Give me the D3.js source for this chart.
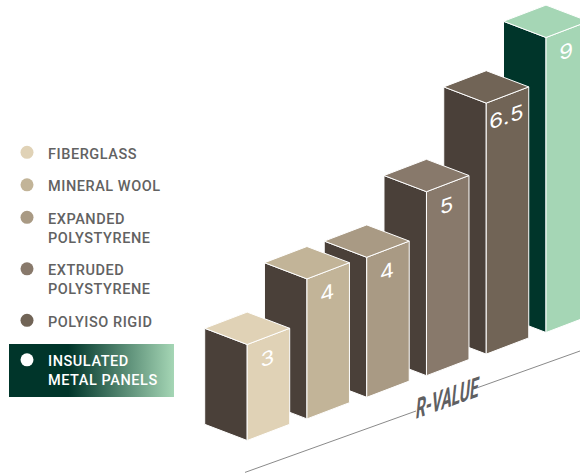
<!DOCTYPE html>
<html>
<head>
<meta charset="utf-8">
<script src="https://cdn.jsdelivr.net/npm/d3@7"></script>
<style>
  html, body { margin: 0; padding: 0; background: #fff; overflow: hidden; }
  text { font-family: Roboto, sans-serif; }
</style>
</head>
<body>
<div id="chart"></div>
<script>
// data
const categories = ["FIBERGLASS", "MINERAL WOOL", "EXPANDED\nPOLYSTYRENE", "EXTRUDED\nPOLYSTYRENE", "POLYISO RIGID", "INSULATED\nMETAL PANELS"]
const rValues = [3, 4, 4, 5, 6.5, 9]
const valueLabels = ["3", "4", "4", "5", "6.5", "9"]
const axisTitle = "R-VALUE"

// styles
const frontColors = ["#e0d2b6", "#c2b498", "#a99a84", "#88796b", "#716456", "#a5d6b5"]
const sideColors = ["#4a4039", "#4a4039", "#4a4039", "#4a4039", "#4a4039", "#00352a"]

const width = 580
const height = 473

const svg = d3.select("#chart").append("svg")
              .attr("width", width)
              .attr("height", height)
              .attr("viewBox", [0, 0, width, height])
              .style("display", "block")

// the bars walk along a slanted floor, so x and y of the front corner each get a scale
const xScale = d3.scalePoint().domain(categories).range([247.2, 546])
const floorScale = d3.scalePoint().domain(categories).range([440.5, 332.5])

// the drawing is not to scale, the bar heights follow the values piece by piece
const heightScale = d3.scaleLinear()
                      .domain([3, 4, 5, 6.5, 9])
                      .range([96, 140, 184, 251, 295])

const frontColor = d3.scaleOrdinal().domain(categories).range(frontColors)
const sideColor = d3.scaleOrdinal().domain(categories).range(sideColors)

const bars = categories.map((c, i) => ({category: c, value: rValues[i], label: valueLabels[i]}))

// box depth
const dx = 42.5
const dy = 16.2
const polygon = d3.line().curve(d3.curveLinearClosed)

// nearest bar on top, so draw from the back
const barGroups = svg.append("g")
                     .selectAll("g")
                     .data(bars.slice().reverse())
                     .join("g")

function faces(d) {
    const x = xScale(d.category)
    const y0 = floorScale(d.category)
    const y1 = y0 - heightScale(d.value)
    return {
        left: [[x, y0], [x - dx, y0 - dy], [x - dx, y1 - dy], [x, y1]],
        right: [[x, y0], [x + dx, y0 - dy], [x + dx, y1 - dy], [x, y1]],
        top: [[x, y1], [x - dx, y1 - dy], [x, y1 - 2 * dy], [x + dx, y1 - dy]]
    }
}

barGroups.append("path")
         .attr("d", d => polygon(faces(d).left))
         .attr("fill", d => sideColor(d.category))
barGroups.append("path")
         .attr("d", d => polygon(faces(d).right))
         .attr("fill", d => frontColor(d.category))
barGroups.append("path")
         .attr("d", d => polygon(faces(d).top))
         .attr("fill", d => frontColor(d.category))
barGroups.selectAll("path")
         .attr("stroke", "#fff")
         .attr("stroke-width", 1)
         .attr("stroke-linejoin", "round")

// value labels lie on the front face
barGroups.append("text")
         .attr("transform", d => {
             const x = xScale(d.category) + 20.5
             const y = floorScale(d.category) - heightScale(d.value) + 13.5
             return `matrix(1.12, ${-dy / dx}, 0, 1, ${x}, ${y})`
         })
         .attr("text-anchor", "middle")
         .attr("dominant-baseline", "central")
         .style("font-family", "Inter, sans-serif")
         .attr("font-size", 20)
         .attr("letter-spacing", 0.6)
         .attr("fill", "#fff")
         .text(d => d.label)

// axis line, broken for the title
const axisLine = svg.append("g")
                    .attr("stroke", "#8a8a8a")
                    .attr("stroke-width", 1)
axisLine.append("line").attr("x1", 245).attr("y1", 472.4).attr("x2", 416).attr("y2", 411)
axisLine.append("line").attr("x1", 478).attr("y1", 387.5).attr("x2", 580).attr("y2", 351)

// condensed, slanted title along the axis
svg.append("text")
   .attr("transform", "matrix(0.53, -0.191, -0.1, 1, 447.5, 398)")
   .attr("text-anchor", "middle")
   .attr("dominant-baseline", "central")
   .attr("font-size", 29)
   .attr("font-weight", 700)
   .attr("fill", "#5f6062")
   .text(axisTitle)

// legend
const defs = svg.append("defs")
const grad = defs.append("linearGradient").attr("id", "panelFade")
grad.append("stop").attr("offset", "0.36").attr("stop-color", "#00352a")
grad.append("stop").attr("offset", "1").attr("stop-color", "#a5d6b5")

svg.append("rect")
   .attr("x", 9)
   .attr("y", 344)
   .attr("width", 165)
   .attr("height", 53)
   .attr("fill", "url(#panelFade)")

const legendDots = frontColors.slice(0, 5).concat(["#fff"])
const lineGap = 19
const rowGap = 32.5
let legendY = 154
categories.forEach((c, i) => {
    const lines = c.split("\n")
    const last = i === categories.length - 1
    if (last) legendY += 7
    svg.append("circle")
       .attr("cx", 27)
       .attr("cy", legendY - 1.7)
       .attr("r", 6.5)
       .attr("fill", legendDots[i])
    lines.forEach((line, j) => {
        svg.append("text")
           .attr("x", 48)
           .attr("y", legendY + j * lineGap)
           .attr("dominant-baseline", "central")
           .attr("font-size", 14.5)
           .attr("font-weight", 500)
           .attr("letter-spacing", 0.55)
           .attr("fill", last ? "#fff" : "#626262")
           .text(line)
    })
    legendY += (lines.length - 1) * lineGap + rowGap
})
</script>
</body>
</html>
